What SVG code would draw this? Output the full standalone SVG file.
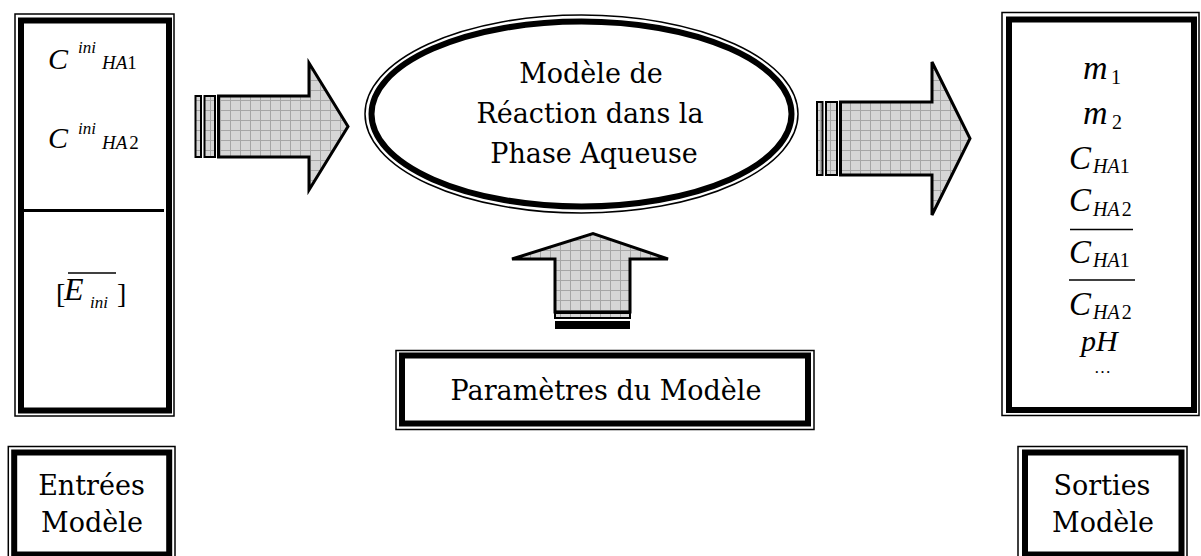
<svg xmlns="http://www.w3.org/2000/svg" width="1201" height="556" viewBox="0 0 1201 556">
<style>
.thin{fill:none;stroke:#000;stroke-width:1.5}
.thick{fill:none;stroke:#000;stroke-width:6}
.lbl{font-family:"DejaVu Serif","Liberation Serif",serif;font-size:27px;fill:#000}
.mi{font-family:"Liberation Serif","Times New Roman",serif;font-style:italic;fill:#000}
.mu{font-family:"Liberation Serif","Times New Roman",serif;font-style:normal;fill:#000}
.arrow{fill:url(#grid);stroke:#000;stroke-width:3;stroke-linejoin:miter}
.stripe{fill:url(#grid);stroke:#000;stroke-width:2}
.bar{stroke:#000;stroke-width:1.5}
</style>
<defs>
<pattern id="grid" width="10" height="10" patternUnits="userSpaceOnUse">
<rect width="10" height="10" fill="#d6d6d6"/>
<path d="M0 0.5H10M0.5 0V10" stroke="#a6a6a6" stroke-width="1"/>
</pattern>
</defs>
<rect width="1201" height="556" fill="#fff"/>

<g id="node-inputs">
<rect class="thin" x="15" y="14" width="159" height="402"/>
<rect class="thick" x="21" y="20.5" width="148" height="390"/>
<line x1="22" y1="210.5" x2="164" y2="210.5" stroke="#000" stroke-width="3"/>
<text class="mi" x="48" y="69" font-size="30">C</text>
<text class="mi" x="78" y="53" font-size="17">ini</text>
<text class="mi" x="102" y="69" font-size="19">HA<tspan class="mu">1</tspan></text>
<text class="mi" x="48" y="148" font-size="30">C</text>
<text class="mi" x="78" y="134" font-size="17">ini</text>
<text class="mi" x="102" y="149" font-size="19">HA<tspan class="mu" dx="2">2</tspan></text>
<text class="mu" x="56" y="303" font-size="28">[</text>
<text class="mi" x="64" y="300" font-size="32">E</text>
<text class="mi" x="90" y="308" font-size="17">ini</text>
<text class="mu" x="117" y="303" font-size="28">]</text>
<line class="bar" x1="68" y1="273" x2="116" y2="273"/>
</g>

<g id="node-model">
<ellipse class="thin" cx="581.5" cy="114" rx="216.5" ry="99"/>
<ellipse class="thick" cx="581.5" cy="114" rx="210" ry="92.5"/>
<text class="lbl" x="591" y="83" text-anchor="middle">Modèle de</text>
<text class="lbl" x="590" y="123" text-anchor="middle">Réaction dans la</text>
<text class="lbl" x="594" y="163" text-anchor="middle">Phase Aqueuse</text>
</g>

<g id="node-params">
<rect class="thin" x="396" y="350.5" width="418" height="79"/>
<rect class="thick" x="402" y="355.5" width="406" height="68"/>
<text class="lbl" x="606" y="400" text-anchor="middle">Paramètres du Modèle</text>
</g>

<g id="node-outputs">
<rect class="thin" x="1002" y="12.5" width="197" height="403"/>
<rect class="thick" x="1009" y="19.5" width="185" height="390.5"/>
<text class="mi" x="1083" y="79" font-size="34">m</text>
<text class="mu" x="1111" y="84" font-size="20">1</text>
<text class="mi" x="1083" y="124" font-size="34">m</text>
<text class="mu" x="1112" y="129" font-size="20">2</text>
<text class="mi" x="1069" y="169" font-size="33">C</text>
<text class="mi" x="1093" y="173" font-size="20">HA<tspan class="mu">1</tspan></text>
<text class="mi" x="1069" y="211" font-size="33">C</text>
<text class="mi" x="1093" y="216" font-size="20">HA<tspan class="mu" dx="2">2</tspan></text>
<line class="bar" x1="1070" y1="229.5" x2="1133" y2="229.5"/>
<text class="mi" x="1069" y="263" font-size="33">C</text>
<text class="mi" x="1093" y="267" font-size="20">HA<tspan class="mu">1</tspan></text>
<line class="bar" x1="1069" y1="280" x2="1135" y2="280"/>
<text class="mi" x="1069" y="315" font-size="33">C</text>
<text class="mi" x="1093" y="319" font-size="20">HA<tspan class="mu" dx="2">2</tspan></text>
<text class="mi" x="1081" y="351" font-size="30">pH</text>
<text class="mu" x="1094" y="373" font-size="17">…</text>
</g>

<g id="label-inputs">
<rect class="thin" x="8.3" y="446.5" width="166.7" height="115"/>
<rect class="thick" x="14.2" y="452.5" width="155" height="102"/>
<text class="lbl" x="91.5" y="495" text-anchor="middle">Entrées</text>
<text class="lbl" x="92" y="532" text-anchor="middle">Modèle</text>
</g>

<g id="label-outputs">
<rect class="thin" x="1018" y="446.5" width="169" height="115"/>
<rect class="thick" x="1025" y="452.5" width="156.5" height="102"/>
<text class="lbl" x="1102" y="495" text-anchor="middle">Sorties</text>
<text class="lbl" x="1103" y="532" text-anchor="middle">Modèle</text>
</g>

<g id="connectors">
<g id="arrow-in">
<rect class="stripe" x="195.5" y="96" width="5.5" height="61"/>
<rect class="stripe" x="204.5" y="96" width="10.5" height="61"/>
<polygon class="arrow" points="218.5,96 309,96 309,63 348,126.5 309,190 309,157 218.5,157"/>
</g>
<g id="arrow-out">
<rect class="stripe" x="817" y="102" width="5.5" height="73"/>
<rect class="stripe" x="826" y="102" width="11" height="73"/>
<polygon class="arrow" points="840.5,102 932,102 932,62 970,138.5 932,215 932,175 840.5,175"/>
</g>
<g id="arrow-params">
<polygon class="arrow" points="555,312 555,259 512,259 593,233.5 668,259 630,259 630,312"/>
<rect class="stripe" x="555" y="313" width="75" height="5"/>
<rect x="555" y="321" width="75" height="8" fill="#000"/>
</g>
</g>
</svg>
